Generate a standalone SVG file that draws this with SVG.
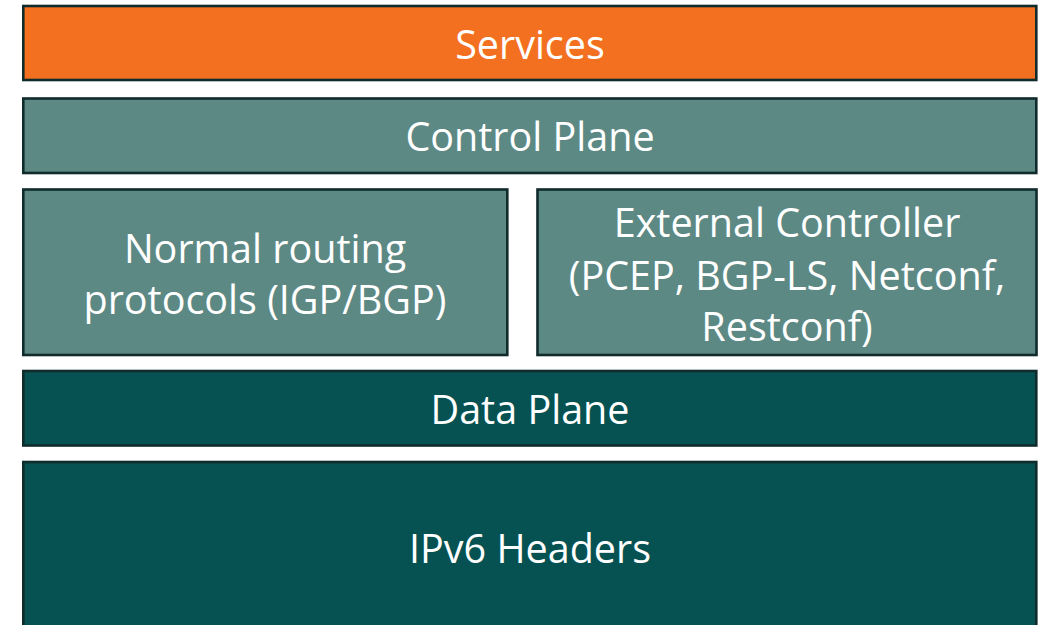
<svg xmlns="http://www.w3.org/2000/svg" width="1043" height="625" viewBox="0 0 1043 625">
  <style>
    .box { stroke: #0f2b2b; stroke-width: 2.6; }
    .orange { fill: #f37021; }
    .mid { fill: #5d8985; }
    .dark { fill: #065252; }
    .label { font-family: "Open Sans", "Noto Sans", "DejaVu Sans", sans-serif; font-size: 39.5px; fill: #ffffff; text-anchor: middle; }
  </style>
  <rect width="1043" height="625" fill="#ffffff"/>
  <g id="services">
    <rect class="box orange" x="23.3" y="6" width="1013" height="74"/>
    <text class="label" x="530" y="59">Services</text>
  </g>
  <g id="control-plane">
    <rect class="box mid" x="23.3" y="98.5" width="1013" height="74.5"/>
    <text class="label" x="530" y="151">Control Plane</text>
  </g>
  <g id="normal-routing">
    <rect class="box mid" x="23.3" y="189.5" width="484" height="165.5"/>
    <text class="label" x="265" y="263">Normal routing</text>
    <text class="label" x="265" y="314">protocols (IGP/BGP)</text>
  </g>
  <g id="external-controller">
    <rect class="box mid" x="537.5" y="189.5" width="499" height="165.5"/>
    <text class="label" x="787" y="237">External Controller</text>
    <text class="label" x="787" y="290">(PCEP, BGP-LS, Netconf,</text>
    <text class="label" x="787" y="341">Restconf)</text>
  </g>
  <g id="data-plane">
    <rect class="box dark" x="23.3" y="371" width="1013" height="74.5"/>
    <text class="label" x="530" y="424">Data Plane</text>
  </g>
  <g id="ipv6-headers">
    <rect class="box dark" x="23.3" y="462" width="1013" height="180"/>
    <text class="label" x="530" y="563">IPv6 Headers</text>
  </g>
  <g id="connectors"/>
</svg>
